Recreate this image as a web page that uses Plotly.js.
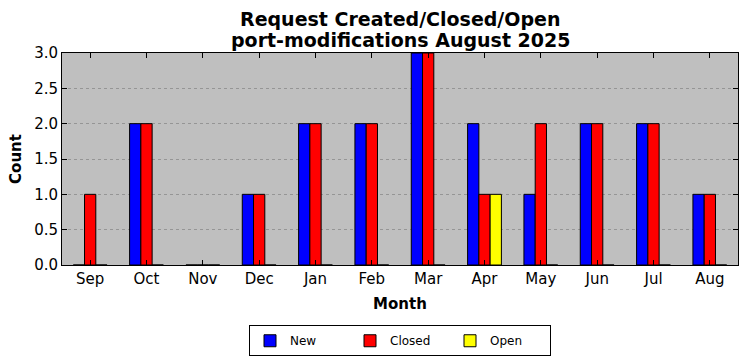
<!DOCTYPE html>
<html>
<head>
<meta charset="utf-8">
<script src="https://cdn.plot.ly/plotly-3.0.1.min.js"></script>
<style>html,body{margin:0;padding:0;background:#fff;}#chart{width:747px;height:361px;}</style>
</head>
<body>
<div id="chart"></div>
<script>
const months = ["Sep","Oct","Nov","Dec","Jan","Feb","Mar","Apr","May","Jun","Jul","Aug"];
const newVals    = [0,2,0,1,2,2,3,2,1,2,2,1];
const closedVals = [1,2,0,1,2,2,3,1,2,2,2,1];
const openVals   = [0,0,0,0,0,0,0,1,0,0,0,0];
const titleLines = ["Request Created/Closed/Open", "port-modifications August 2025"];

const font = "DejaVu Sans, sans-serif";
const mk = (name, y, color) => ({
  type: "bar", name: name, x: months, y: y,
  marker: {color: color, line: {color: "#000", width: 1}}
});
const data = [mk("New", newVals, "#0000ff"), mk("Closed", closedVals, "#ff0000"), mk("Open", openVals, "#ffff00")];

const layout = {
  width: 747, height: 361,
  margin: {l: 62, r: 9, t: 53, b: 96},
  paper_bgcolor: "#ffffff",
  plot_bgcolor: "#bfbfbf",
  barmode: "group",
  bargap: 0.4,
  bargroupgap: 0,
  font: {family: font, color: "#000", size: 12},
  annotations: [
    {text: "<b>" + titleLines[0] + "</b>", xref: "paper", yref: "paper", x: 0.5, y: 1.160,
     xanchor: "center", yanchor: "middle", showarrow: false, font: {family: font, size: 19, color: "#000"}},
    {text: "<b>" + titleLines[1] + "</b>", xref: "paper", yref: "paper", x: 0.5, y: 1.062,
     xanchor: "center", yanchor: "middle", showarrow: false, font: {family: font, size: 19, color: "#000"}}
  ],
  xaxis: {
    type: "category", range: [-0.5, 11.5], automargin: false,
    ticks: "inside", ticklen: 5, tickcolor: "#000", mirror: "ticks",
    showline: true, linecolor: "#000", linewidth: 1,
    showgrid: false, zeroline: false,
    tickfont: {family: font, size: 15, color: "#000"},
    title: {text: "<b>Month</b>", font: {family: font, size: 15, color: "#000"}, standoff: 11}
  },
  yaxis: {
    range: [0, 3], automargin: false,
    tickvals: [0,0.5,1,1.5,2,2.5,3], ticktext: ["0.0","0.5","1.0","1.5","2.0","2.5","3.0"],
    ticks: "inside", ticklen: 5, tickcolor: "#000", mirror: "ticks",
    showline: true, linecolor: "#000", linewidth: 1,
    showgrid: true, gridcolor: "#959595", griddash: "dot", gridwidth: 1,
    zeroline: false,
    tickfont: {family: font, size: 15, color: "#000"},
    title: {text: "<b>Count</b>", font: {family: font, size: 15, color: "#000"}, standoff: 8}
  },
  legend: {
    orientation: "h", x: 0.5, xanchor: "center",
    yref: "container", y: 0.099, yanchor: "top",
    bordercolor: "#000", borderwidth: 1, bgcolor: "#fff",
    font: {family: font, size: 12, color: "#000"},
    traceorder: "normal", entrywidth: 55, entrywidthmode: "pixels"
  },
  showlegend: true
};
Plotly.newPlot("chart", data, layout, {displayModeBar: false, staticPlot: true});
</script>
</body>
</html>
